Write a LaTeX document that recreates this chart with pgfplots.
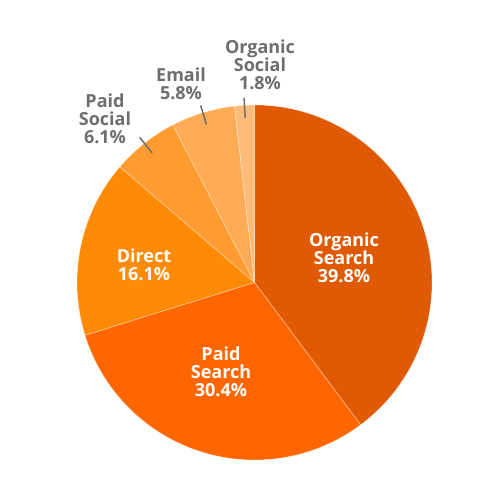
\documentclass[border=0pt]{standalone}
\usepackage{fontspec}
\setmainfont{Open Sans}
\usepackage{pgfplots}
\usepackage{pgfplotstable}
\pgfplotsset{compat=1.18}
\definecolor{c0}{HTML}{E05A04}
\definecolor{c1}{HTML}{FF6600}
\definecolor{c2}{HTML}{FF8A06}
\definecolor{c3}{HTML}{FF9B30}
\definecolor{c4}{HTML}{FFAB55}
\definecolor{c5}{HTML}{FFBB77}
\definecolor{lbl}{HTML}{6E6E6E}
% shares in percent, clockwise from 12 o'clock
\pgfplotstableread{
value
39.8
30.4
16.1
6.1
5.8
1.8
}\shares
\pgfplotstablecreatecol[expr accum={\pgfmathaccuma+\thisrow{value}}{0}]{cum}\shares
\foreach \i in {0,...,5}{%
  \pgfplotstablegetelem{\i}{cum}\of\shares
  \pgfmathsetmacro\e{90-3.6*\pgfplotsretval}%
  \pgfplotstablegetelem{\i}{value}\of\shares
  \expandafter\xdef\csname v\i\endcsname{\pgfplotsretval}%
  \pgfmathsetmacro\s{\e+3.6*\pgfplotsretval}%
  \pgfmathsetmacro\m{(\s+\e)/2}%
  \expandafter\xdef\csname s\i\endcsname{\s}%
  \expandafter\xdef\csname e\i\endcsname{\e}%
  \expandafter\xdef\csname m\i\endcsname{\m}%
}
\begin{document}
\begin{tikzpicture}
\begin{axis}[
  scale only axis, width=500bp, height=500bp,
  xmin=0, xmax=500, ymin=0, ymax=500,
  hide axis, clip=false,
]
\pgfplotsinvokeforeach{0,...,5}{%
  \fill[c#1, draw=white, draw opacity=0.5, line width=0.5bp] (axis cs:254.5,217.5) -- ++(\csname s#1\endcsname:177.5bp)
     arc[start angle=\csname s#1\endcsname, end angle=\csname e#1\endcsname, radius=177.5bp] -- cycle;
}
\pgfplotsinvokeforeach{3,4,5}{%
  \draw[lbl, line width=1.5bp] (axis cs:254.5,217.5) ++(\csname m#1\endcsname:165bp) -- ++(\csname m#1\endcsname:20bp);
}
\tikzset{lab/.style={align=center, font={\fontsize{18bp}{18bp}\selectfont\bfseries}, inner sep=0pt}}
\node[lab, white] at (axis cs:344,242) {Organic\\Search\\\csname v0\endcsname\%};
\node[lab, white] at (axis cs:221,128) {Paid\\Search\\\csname v1\endcsname\%};
\node[lab, white] at (axis cs:144,235) {Direct\\\csname v2\endcsname\%};
\node[lab, lbl] at (axis cs:105,381) {Paid\\Social\\\csname v3\endcsname\%};
\node[lab, lbl] at (axis cs:181,416) {Email\\\csname v4\endcsname\%};
\node[lab, lbl] at (axis cs:260,435) {Organic\\Social\\\csname v5\endcsname\%};
\end{axis}
\pgfresetboundingbox
\path (current axis.south west) (current axis.north east);
\end{tikzpicture}
\end{document}
